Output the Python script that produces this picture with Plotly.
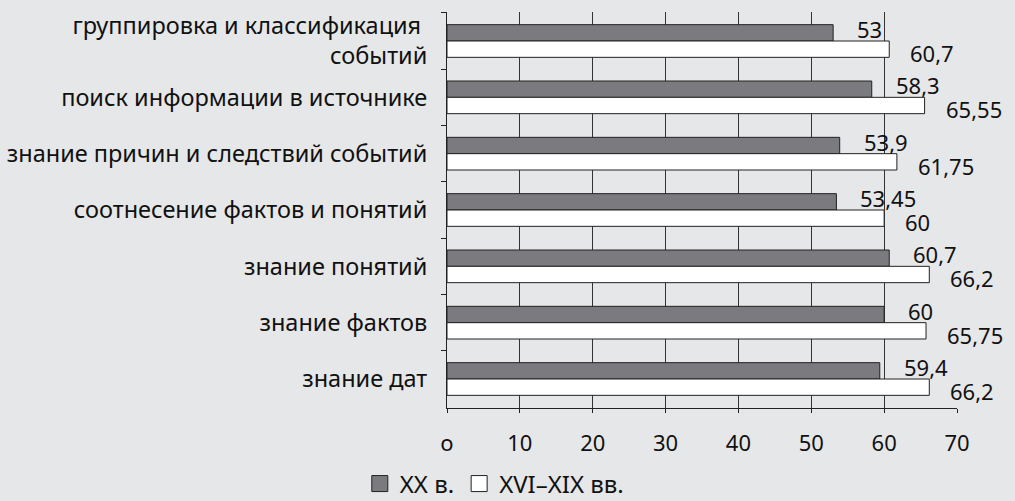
import plotly.graph_objects as go

categories = [
    "группировка и классификация <br>событий",
    "поиск информации в источнике",
    "знание причин и следствий событий",
    "соотнесение фактов и понятий",
    "знание понятий",
    "знание фактов",
    "знание дат",
]
series_names = ["XX в.", "XVI–XIX вв."]
xx_values = [53, 58.3, 53.9, 53.45, 60.7, 60, 59.4]
xvi_xix_values = [60.7, 65.55, 61.75, 60, 66.2, 65.75, 66.2]
tick_vals = [0, 10, 20, 30, 40, 50, 60, 70]
tick_text = ["o", "10", "20", "30", "40", "50", "60", "70"]
grid_vals = [10, 20, 30, 40, 50, 60]

FONT = "Noto Sans"
BG = "#e6e7e8"
GRAY = "#7b7b7f"
EDGE = "#222222"
TXT = "#111111"


def fmt(v):
    return ("%g" % v).replace(".", ",")


fig = go.Figure()
for vals, name, color in [(xx_values, series_names[0], GRAY),
                          (xvi_xix_values, series_names[1], "#ffffff")]:
    fig.add_trace(go.Bar(
        y=categories, x=vals, orientation="h", name=name, showlegend=False,
        marker=dict(color=color, line=dict(color=EDGE, width=1)),
    ))
# legend entries with larger square symbols
for name, color in [(series_names[0], GRAY), (series_names[1], "#ffffff")]:
    fig.add_trace(go.Scatter(
        x=[None], y=[None], mode="markers", name=name,
        marker=dict(symbol="square", size=20, color=color,
                    line=dict(color=EDGE, width=1)),
    ))
fig.add_trace(go.Scatter(x=[None], y=[None], xaxis="x2", showlegend=False, hoverinfo="skip"))

# value labels
for vals, yshift, xshift in [(xx_values, 12, 22), (xvi_xix_values, -12, 19)]:
    for cat, v in zip(categories, vals):
        fig.add_annotation(
            x=v, y=cat, xref="x", yref="y", text=fmt(v), showarrow=False,
            xanchor="left", yanchor="middle", xshift=xshift, yshift=yshift,
            font=dict(family=FONT, size=22, color=TXT),
        )

fig.update_layout(
    width=1015, height=501,
    margin=dict(l=447, r=58, t=12, b=93, autoexpand=False),
    paper_bgcolor=BG, plot_bgcolor=BG,
    barmode="group", bargap=0.42, bargroupgap=0,
    font=dict(family=FONT, size=22, color=TXT),
    xaxis=dict(
        range=[0, 70], tickvals=tick_vals, ticktext=tick_text,
        showgrid=False, zeroline=False,
        showline=True, linecolor=EDGE, linewidth=1,
        ticks="outside", ticklen=4, tickcolor=EDGE,
        ticklabelstandoff=12,
        tickfont=dict(family=FONT, size=22, color=TXT),
    ),
    xaxis2=dict(
        overlaying="x", matches="x", range=[0, 70], tickvals=grid_vals,
        showgrid=True, gridcolor="#333333", gridwidth=1,
        showticklabels=False, zeroline=False, showline=False, ticks="",
    ),
    yaxis=dict(
        autorange="reversed", tickson="boundaries",
        showline=True, linecolor=EDGE, linewidth=1,
        ticks="outside", ticklen=5, tickcolor=EDGE,
        ticklabelstandoff=14, showgrid=False,
        tickfont=dict(family=FONT, size=23.5, color=TXT),
    ),
    legend=dict(
        orientation="h", xref="container", yref="container",
        x=0.487, xanchor="center", y=0.034, yanchor="middle",
        font=dict(family=FONT, size=24, color=TXT),
        bgcolor="rgba(0,0,0,0)", traceorder="normal",
        itemsizing="trace", itemwidth=30,
    ),
)

fig.write_html("out.html")
